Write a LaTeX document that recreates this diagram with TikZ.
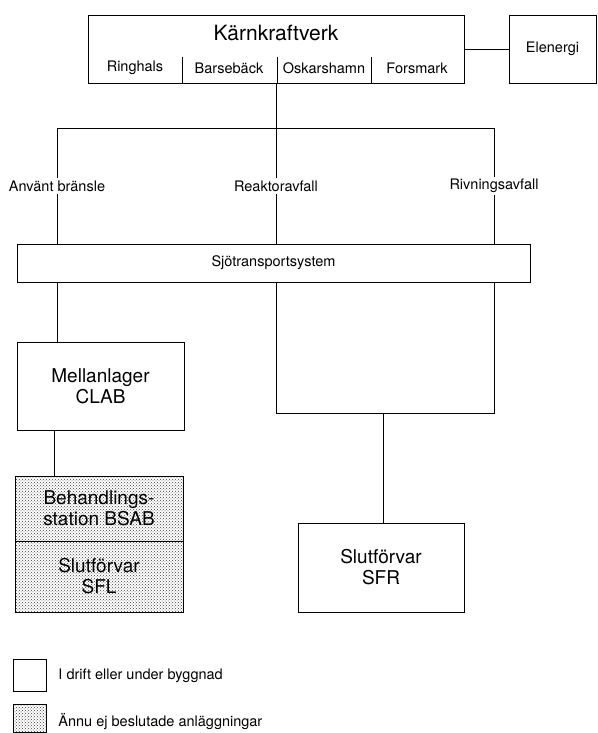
\documentclass[tikz,border=0pt]{standalone}
\usepackage{fontspec}
\setmainfont{TeX Gyre Heros}
\usetikzlibrary{patterns}

\begin{document}
\begin{tikzpicture}[
  x=1pt, y=-1pt, line width=0.9pt,
  box/.style={draw, inner sep=0pt, align=center, font=\fontsize{19}{21}\selectfont},
  planned/.style={box, pattern=crosshatch dots, pattern color=black!75},
  lbl/.style={inner sep=2pt, font=\fontsize{14.5}{17}\selectfont},
  title/.style={inner sep=0pt, font=\fontsize{21}{25}\selectfont}
]
\useasboundingbox (0,0) rectangle (597,733);

\node[box, minimum width=376pt, minimum height=68pt] (kkv) at (276,49) {};
\node[title] (kkvname) at (276,33) {Kärnkraftverk};
\node[lbl] (ring) at (135,68) {Ringhals};
\node[lbl] (bars) at (229,68) {Barsebäck};
\node[lbl] (oska) at (324,68) {Oskarshamn};
\node[lbl] (fors) at (417,68) {Forsmark};
\foreach \x in {182,277,371}
  \draw (\x,57) -- (\x,83);
\node[box, minimum width=87pt, minimum height=68pt, font=\fontsize{14.5}{17}\selectfont] (elen) at (552.5,49) {Elenergi};
\draw (kkv.east) -- (elen.west);

\coordinate (jA) at (57,128);
\coordinate (jM) at (276,128);
\coordinate (jR) at (494,128);
\node[lbl] (anv) at (57,186) {Använt bränsle};
\node[lbl] (rea) at (276,186) {Reaktoravfall};
\node[lbl] (riv) at (494,186) {Rivningsavfall};
\node[box, minimum width=513pt, minimum height=38pt, font=\fontsize{14.5}{17}\selectfont] (sjo) at (273.5,263) {Sjötransportsystem};

\draw (kkv.south) -- (jM);
\draw (jA) -- (jR);
\draw (jA) -- (anv) -- (anv |- sjo.north);
\draw (jM) -- (rea) -- (rea |- sjo.north);
\draw (jR) -- (riv) -- (riv |- sjo.north);

\node[box, minimum width=167pt, minimum height=88pt] (mell) at (100.5,386) {Mellanlager\\CLAB};
\node[planned, minimum width=168pt, minimum height=65pt] (bsab) at (99,508.5) {Behandlings-\\station BSAB};
\node[planned, minimum width=168pt, minimum height=71pt] (sfl) at (99,576.5) {Slutförvar\\SFL};
\draw (anv |- sjo.south) -- (anv |- mell.north);
\draw (54,430) -- (54,476);

\coordinate (uM) at (383,413);
\node[box, minimum width=166pt, minimum height=89pt] (sfr) at (381,567.5) {Slutförvar\\SFR};
\draw (rea |- sjo.south) -- (rea |- uM) -- (riv |- uM) -- (riv |- sjo.south);
\draw (uM) -- (uM |- sfr.north);

\node[box, minimum width=33pt, minimum height=32pt] (lg1) at (29.5,675) {};
\node[lbl, anchor=west] (lg1txt) at (56,676) {I drift eller under byggnad};
\node[planned, minimum width=33pt, minimum height=28pt] (lg2) at (29.5,718) {};
\node[lbl, anchor=west] (lg2txt) at (56,722) {Ännu ej beslutade anläggningar};
\end{tikzpicture}
\end{document}
